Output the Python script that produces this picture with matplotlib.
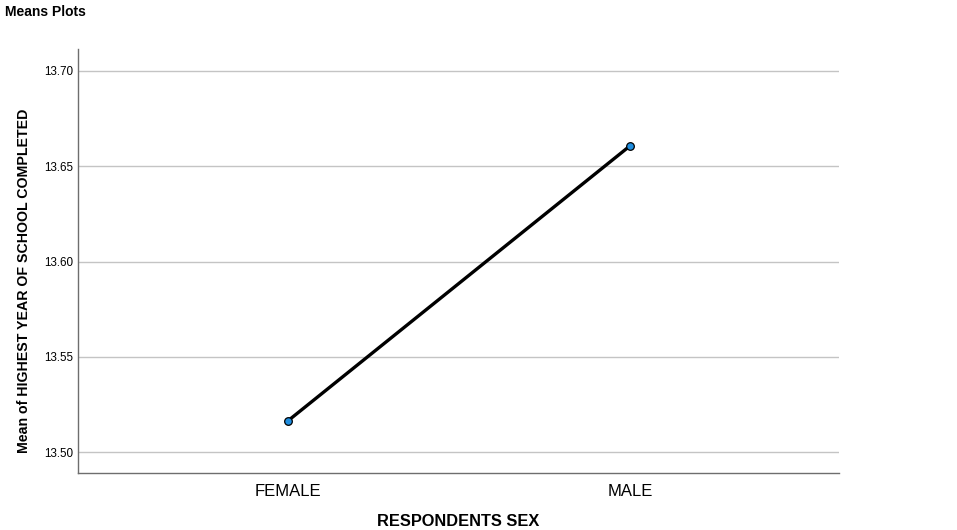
import matplotlib
matplotlib.use("Agg")
import matplotlib.pyplot as plt

plt.rcParams['font.family'] = ['Liberation Sans', 'DejaVu Sans']

categories = ["FEMALE", "MALE"]
means = [13.5164, 13.6607]
yticks = [13.50, 13.55, 13.60, 13.65, 13.70]

W, H = 957, 530
fig = plt.figure(figsize=(W / 100, H / 100), dpi=100)
x0, x1, y0, y1 = 78, 839, 49, 472.7
ax = fig.add_axes([x0 / W, 1 - y1 / H, (x1 - x0) / W, (y1 - y0) / H])

xs = list(range(len(categories)))
ax.plot(xs, means, color='black', lw=2.4, zorder=3, solid_capstyle='round')
ax.plot(xs, means, linestyle='none', marker='o', markersize=5.5,
        markerfacecolor='#1f8ee0', markeredgecolor='black', markeredgewidth=0.9, zorder=4)

ax.set_xlim(-0.6126, 1.6106)
ax.set_ylim(13.4893, 13.7115)
ax.set_yticks(yticks)
ax.set_yticklabels([f"{v:.2f}" for v in yticks], fontsize=8.4)
ax.set_xticks(xs)
ax.set_xticklabels(categories, fontsize=12)
ax.tick_params(axis='both', length=0, colors='black')
ax.tick_params(axis='y', pad=3.5)
ax.tick_params(axis='x', pad=8)
ax.grid(axis='y', color='#c4c4c4', lw=1.0)
ax.set_axisbelow(True)
for s in ['top', 'right']:
    ax.spines[s].set_visible(False)
for s in ['left', 'bottom']:
    ax.spines[s].set_color('#6e6e6e')
    ax.spines[s].set_linewidth(1.0)

fig.text(5 / W, 1 - 12 / H, "Means Plots", fontsize=10, fontweight='bold', va='center', ha='left')
fig.text(458 / W, 1 - 521 / H, "RESPONDENTS SEX", fontsize=11.8, fontweight='bold', va='center', ha='center')
fig.text(24 / W, 1 - 281 / H, "Mean of HIGHEST YEAR OF SCHOOL COMPLETED", fontsize=10.2,
         fontweight='bold', rotation=90, va='center', ha='center')

fig.savefig("out.png", dpi=100)
